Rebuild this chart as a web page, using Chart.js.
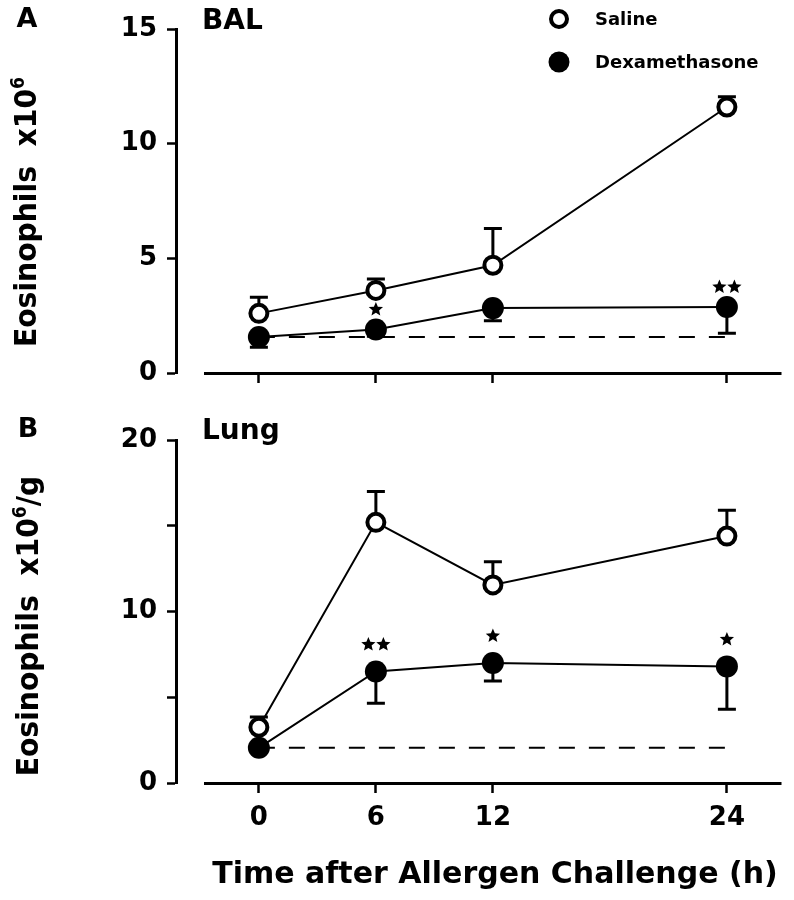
<!DOCTYPE html>
<html>
<head>
<meta charset="utf-8">
<script src="https://cdn.jsdelivr.net/npm/chart.js@4.4.1/dist/chart.umd.min.js"></script>
<style>
  html, body { margin: 0; padding: 0; background: #fff; }
  #wrap { position: relative; width: 794px; height: 900px; }
  #wrap canvas { position: absolute; left: 0; }
  #balCanvas { top: 0; }
  #lungCanvas { top: 400px; }
</style>
</head>
<body>
<div id="wrap">
  <canvas id="balCanvas" width="794" height="400"></canvas>
  <canvas id="lungCanvas" width="794" height="500"></canvas>
</div>
<script>
const FONT = '"DejaVu Sans", "Liberation Sans", Arial, sans-serif';

// shared x values (hours after challenge)
const hours = [0, 6, 12, 24];
const hourTicks = [0, 6, 12, 24];

// panel A - BAL eosinophils x10^6 (mean, one-sided SEM)
const balSaline = [2.6, 3.6, 4.7, 11.6];
const balSalineErr = [0.7, 0.5, 1.6, 0.45];
const balDex = [1.57, 1.9, 2.83, 2.88];
const balDexErr = [0.45, 0.3, 0.55, 1.15];
const balBaseline = 1.57;
const balStars = [0, 1, 0, 2];
const balTicks = [0, 5, 10, 15];
const balTickLabels = ['0', '5', '10', '15'];

// panel B - lung eosinophils x10^6/g
const lungSaline = [3.25, 15.2, 11.55, 14.4];
const lungSalineErr = [0.6, 1.8, 1.35, 1.5];
const lungDex = [2.05, 6.5, 7.0, 6.8];
const lungDexErr = [0, 1.85, 1.05, 2.5];
const lungBaseline = 2.05;
const lungStars = [0, 2, 1, 1];
const lungTicks = [0, 5, 10, 15, 20];
const lungTickLabels = ['0', '', '10', '', '20'];

const toPoints = (vals) => hours.map((h, i) => ({ x: h, y: vals[i] }));

function drawStar(ctx, cx, cy, r) {
    ctx.beginPath();
    for (let k = 0; k < 10; k++) {
        const rr = k % 2 ? r * 0.45 : r;
        const a = -Math.PI / 2 + k * Math.PI / 5;
        ctx.lineTo(cx + rr * Math.cos(a), cy + rr * Math.sin(a));
    }
    ctx.closePath();
    ctx.fill();
}

// error bars go under the markers so the stem hides behind the circle
const errorBars = {
    id: 'errorBars',
    beforeDatasetsDraw(chart) {
        const { ctx, scales: { x, y } } = chart;
        ctx.save();
        ctx.strokeStyle = '#000';
        ctx.lineWidth = 3;
        chart.data.datasets.forEach(ds => {
            if (!ds.errors) return;
            ds.data.forEach((pt, i) => {
                const e = ds.errors[i];
                if (!e) return;
                const px = x.getPixelForValue(pt.x);
                const y0 = y.getPixelForValue(pt.y);
                const y1 = y.getPixelForValue(pt.y + ds.errorSign * e);
                ctx.beginPath();
                ctx.moveTo(px, y0);
                ctx.lineTo(px, y1);
                ctx.moveTo(px - 9, y1);
                ctx.lineTo(px + 9, y1);
                ctx.stroke();
            });
        });
        ctx.restore();
    },
    afterDatasetsDraw(chart, args, opts) {
        // significance stars above the dexamethasone points
        const { ctx, scales: { x, y } } = chart;
        ctx.save();
        ctx.fillStyle = '#000';
        chart.data.datasets.forEach(ds => {
            if (!ds.stars) return;
            ds.data.forEach((pt, i) => {
                const n = ds.stars[i];
                if (!n) return;
                const px = x.getPixelForValue(pt.x);
                const py = y.getPixelForValue(pt.y) - opts.starGap;
                for (let k = 0; k < n; k++) {
                    drawStar(ctx, px + (k - (n - 1) / 2) * 15, py, 7.5);
                }
            });
        });
        ctx.restore();
    }
};

const panelDecor = {
    id: 'panelDecor',
    afterDraw(chart, args, opts) {
        const { ctx, chartArea } = chart;
        ctx.save();
        ctx.fillStyle = '#000';
        ctx.strokeStyle = '#000';

        // x axis line, detached from the y axis
        ctx.lineWidth = 3;
        ctx.beginPath();
        ctx.moveTo(chartArea.left + 28, chartArea.bottom + 0.5);
        ctx.lineTo(chartArea.right, chartArea.bottom + 0.5);
        ctx.stroke();

        ctx.textBaseline = 'middle';
        ctx.textAlign = 'center';
        ctx.font = `bold 27px ${FONT}`;
        ctx.fillText(opts.letter, opts.letterPos[0], opts.letterPos[1]);

        ctx.textAlign = 'left';
        ctx.font = `bold 28px ${FONT}`;
        ctx.fillText(opts.title, chartArea.left + 26, opts.titleY);

        // rotated y title with superscript, slightly condensed
        ctx.save();
        ctx.translate(opts.yTitlePos[0], opts.yTitlePos[1]);
        ctx.rotate(-Math.PI / 2);
        ctx.scale(0.91, 1);
        ctx.textBaseline = 'alphabetic';
        const big = `bold 31px ${FONT}`, small = `bold 19px ${FONT}`;
        const [t1, sup, t2] = opts.yTitle;
        ctx.font = big;
        const w1 = ctx.measureText(t1).width, w3 = ctx.measureText(t2).width;
        ctx.font = small;
        const w2 = ctx.measureText(sup).width;
        let cx = -(w1 + w2 + w3) / 2;
        ctx.font = big;
        ctx.fillText(t1, cx, 11);
        cx += w1;
        ctx.font = small;
        ctx.fillText(sup, cx, -1);
        cx += w2;
        ctx.font = big;
        ctx.fillText(t2, cx, 11);
        ctx.restore();

        if (opts.legend) {
            ctx.font = `bold 18px ${FONT}`;
            ctx.textBaseline = 'middle';
            opts.legend.forEach((item, i) => {
                const ly = 19 + i * 43;
                ctx.beginPath();
                ctx.arc(559, ly, item.filled ? 10.5 : 8, 0, Math.PI * 2);
                if (item.filled) {
                    ctx.fill();
                } else {
                    ctx.fillStyle = '#fff';
                    ctx.fill();
                    ctx.lineWidth = 4;
                    ctx.stroke();
                    ctx.fillStyle = '#000';
                }
                ctx.fillText(item.label, 595, ly + 1);
            });
        }

        if (opts.xTitle) {
            ctx.font = `bold 30px ${FONT}`;
            ctx.textAlign = 'center';
            ctx.fillText(opts.xTitle, 495, opts.xTitleY);
        }
        ctx.restore();
    }
};

function makePanel(canvasId, p) {
    return new Chart(document.getElementById(canvasId), {
        type: 'line',
        data: {
            datasets: [{
                label: 'Saline',
                data: toPoints(p.saline),
                errors: p.salineErr,
                errorSign: 1,
                borderColor: '#000',
                borderWidth: 2,
                pointRadius: 8.5,
                pointBorderWidth: 4,
                pointBorderColor: '#000',
                pointBackgroundColor: '#fff',
                tension: 0,
                clip: false
            }, {
                label: 'Dexamethasone',
                data: toPoints(p.dex),
                errors: p.dexErr,
                errorSign: -1,
                stars: p.stars,
                borderColor: '#000',
                borderWidth: 2,
                pointRadius: 11,
                pointBorderWidth: 0,
                pointBackgroundColor: '#000',
                tension: 0,
                clip: false
            }, {
                label: 'baseline',
                data: [{ x: hours[0], y: p.baseline }, { x: hours[hours.length - 1], y: p.baseline }],
                borderColor: '#000',
                borderWidth: 2,
                borderDash: [16, 14],
                pointRadius: 0,
                clip: false
            }]
        },
        options: {
            responsive: false,
            animation: false,
            events: [],
            layout: { padding: { left: 0, right: 5, top: p.top, bottom: 0 } },
            plugins: {
                legend: { display: false },
                tooltip: { enabled: false },
                errorBars: { starGap: p.starGap },
                panelDecor: p.decor
            },
            scales: {
                x: {
                    type: 'linear',
                    min: -4.25,
                    max: 26.8,
                    afterBuildTicks: (s) => { s.ticks = hourTicks.map(v => ({ value: v })); },
                    afterFit: (s) => { s.height = p.xHeight; },
                    border: { display: false },
                    grid: { drawOnChartArea: false, tickLength: 10, tickWidth: 2.5, tickColor: '#000' },
                    ticks: {
                        display: p.xLabels,
                        padding: 10,
                        maxRotation: 0,
                        color: '#000',
                        font: { family: FONT, size: 26, weight: 'bold' }
                    }
                },
                y: {
                    min: 0,
                    max: p.ticks[p.ticks.length - 1],
                    afterBuildTicks: (s) => { s.ticks = p.ticks.map(v => ({ value: v })); },
                    afterFit: (s) => { s.width = 176; },
                    border: { display: true, width: 3, color: '#000' },
                    grid: { drawOnChartArea: false, tickLength: 9, tickWidth: 2.5, tickColor: '#000' },
                    ticks: {
                        padding: 10,
                        color: '#000',
                        font: { family: FONT, size: 26, weight: 'bold' },
                        callback: (v, i) => p.tickLabels[i]
                    }
                }
            }
        },
        plugins: [errorBars, panelDecor]
    });
}

makePanel('balCanvas', {
    saline: balSaline, salineErr: balSalineErr,
    dex: balDex, dexErr: balDexErr, stars: balStars,
    baseline: balBaseline, ticks: balTicks, tickLabels: balTickLabels,
    top: 29, xHeight: 27, xLabels: false, starGap: 20,
    decor: {
        letter: 'A', letterPos: [27, 20], title: 'BAL', titleY: 22,
        yTitle: ['Eosinophils  x10', '6', ''], yTitlePos: [25, 212],
        legend: [{ label: 'Saline', filled: false }, { label: 'Dexamethasone', filled: true }]
    }
});

makePanel('lungCanvas', {
    saline: lungSaline, salineErr: lungSalineErr,
    dex: lungDex, dexErr: lungDexErr, stars: lungStars,
    baseline: lungBaseline, ticks: lungTicks, tickLabels: lungTickLabels,
    top: 40, xHeight: 117, xLabels: true, starGap: 27,
    decor: {
        letter: 'B', letterPos: [28, 30], title: 'Lung', titleY: 32,
        yTitle: ['Eosinophils  x10', '6', '/g'], yTitlePos: [27, 226],
        xTitle: 'Time after Allergen Challenge (h)', xTitleY: 475
    }
});
</script>
</body>
</html>
